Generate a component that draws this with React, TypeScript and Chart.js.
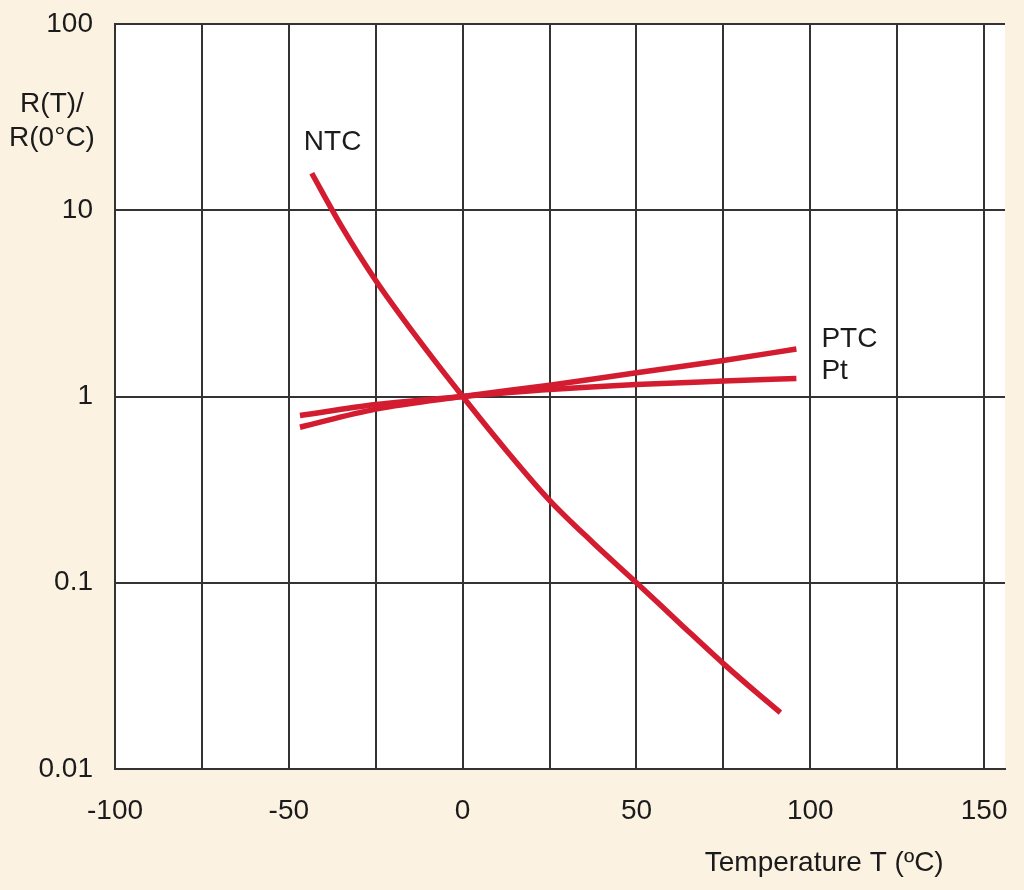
import React, { useEffect, useRef } from "react";
import { Chart, registerables } from "chart.js";

Chart.register(...registerables);

// Temperature (°C) samples
const ntcT = [-43.4, -35, -25, -12.5, 0, 12.5, 25, 37.5, 50, 62.5, 75, 85, 91.4];
const ntcR = [15.8, 8.3, 4.2, 2.0, 1, 0.515, 0.277, 0.164, 0.1, 0.0605, 0.0368, 0.0253, 0.0201];

const ptcT = [-46.8, -25, 0, 25, 50, 75, 96];
const ptcR = [0.684, 0.855, 1, 1.15, 1.34, 1.56, 1.8];

const ptT = [-46.8, -25, 0, 25, 50, 75, 96];
const ptR = [0.79, 0.905, 1, 1.09, 1.16, 1.21, 1.25];

const xGridValues = [-100, -75, -50, -25, 0, 25, 50, 75, 100, 125, 150];
const xTickLabels = ["-100", "", "-50", "", "0", "", "50", "", "100", "", "150"];
const yTickValues = [0.01, 0.1, 1, 10, 100];
const yTickLabels = ["0.01", "0.1", "1", "10", "100"];

const seriesLabels = ["NTC", "PTC", "Pt"];
const labelX = [-37.4, 103.2, 103.2];
const labelY = [23.2, 2.02, 1.37];
const labelAlign = ["center", "left", "left"];

const xTitle = "Temperature T (ºC)";
const yTitleLines = ["R(T)/", "R(0°C)"];

const RED = "#D41C30";
const GRID = "#333333";
const TEXT = "#1b1b1b";
const BG = "#FCF2E2";
const FONT = "'Liberation Sans', Arial, Helvetica, sans-serif";
const FS = 28;

const toPoints = (xs: number[], ys: number[]) => xs.map((x, i) => ({ x, y: ys[i] }));

const textPlugin = {
  id: "textPlugin",
  afterDraw(chart: any) {
    const { ctx, chartArea, scales } = chart;
    const xs = scales.x;
    const ys = scales.y;
    ctx.save();
    ctx.fillStyle = TEXT;
    ctx.font = `${FS}px ${FONT}`;
    ctx.textBaseline = "middle";
    seriesLabels.forEach((t, i) => {
      ctx.textAlign = labelAlign[i];
      ctx.fillText(t, xs.getPixelForValue(labelX[i]), ys.getPixelForValue(labelY[i]));
    });
    ctx.textAlign = "center";
    ctx.fillText(xTitle, xs.getPixelForValue(104), chartArea.bottom + 94);
    yTitleLines.forEach((t, i) => {
      ctx.fillText(t, chartArea.left - 63, chartArea.top + 80 + i * 34);
    });
    ctx.restore();
  },
};

export default function App() {
  const ref = useRef<HTMLCanvasElement>(null);

  useEffect(() => {
    document.body.style.margin = "0";
    document.body.style.background = BG;
    const canvas = ref.current!;
    const ds = (label: string, xs: number[], ys: number[]) => ({
      label,
      data: toPoints(xs, ys),
      borderColor: RED,
      backgroundColor: RED,
      borderWidth: 5.5,
      pointRadius: 0,
      cubicInterpolationMode: "monotone" as const,
      borderCapStyle: "butt" as const,
      fill: false,
    });
    const chart = new Chart(canvas, {
      type: "line",
      data: {
        datasets: [ds("NTC", ntcT, ntcR), ds("PTC", ptcT, ptcR), ds("Pt", ptT, ptR)],
      },
      options: {
        animation: false,
        responsive: false,
        layout: { padding: { top: 24, right: 19, left: 0, bottom: 0 } },
        plugins: { legend: { display: false }, tooltip: { enabled: false } },
        scales: {
          x: {
            type: "linear",
            min: -100,
            max: 156,
            afterBuildTicks: (s: any) => {
              s.ticks = xGridValues.map((v) => ({ value: v }));
            },
            afterFit: (s: any) => {
              s.height = 121;
              s.paddingLeft = 0;
              s.paddingRight = 0;
            },
            ticks: {
              callback: (v: any) => {
                const i = xGridValues.indexOf(Number(v));
                return i >= 0 ? xTickLabels[i] : "";
              },
              color: TEXT,
              font: { family: FONT, size: FS },
              padding: 25,
              maxRotation: 0,
              autoSkip: false,
            },
            grid: { color: GRID, lineWidth: 2, drawTicks: false },
            border: { color: GRID, width: 2 },
          },
          y: {
            type: "logarithmic",
            min: 0.01,
            max: 100,
            afterBuildTicks: (s: any) => {
              s.ticks = yTickValues.map((v) => ({ value: v }));
            },
            afterFit: (s: any) => {
              s.width = 115;
              s.paddingTop = 0;
              s.paddingBottom = 0;
            },
            ticks: {
              callback: (v: any) => {
                const i = yTickValues.indexOf(Number(v));
                return i >= 0 ? yTickLabels[i] : "";
              },
              color: TEXT,
              font: { family: FONT, size: FS },
              padding: 22,
              autoSkip: false,
            },
            grid: { color: GRID, lineWidth: 2, drawTicks: false },
            border: { color: GRID, width: 2 },
          },
        },
      },
      plugins: [
        {
          id: "bg",
          beforeDraw(c: any) {
            const { ctx, chartArea, width, height } = c;
            ctx.save();
            ctx.fillStyle = BG;
            ctx.fillRect(0, 0, width, height);
            ctx.fillStyle = "#ffffff";
            ctx.fillRect(chartArea.left, chartArea.top, chartArea.right - chartArea.left, chartArea.bottom - chartArea.top);
            ctx.restore();
          },
        },
        textPlugin,
      ],
    } as any);
    return () => chart.destroy();
  }, []);

  return (
    <div style={{ width: 1024, height: 890, background: BG }}>
      <canvas ref={ref} width={1024} height={890} style={{ display: "block" }} />
    </div>
  );
}
